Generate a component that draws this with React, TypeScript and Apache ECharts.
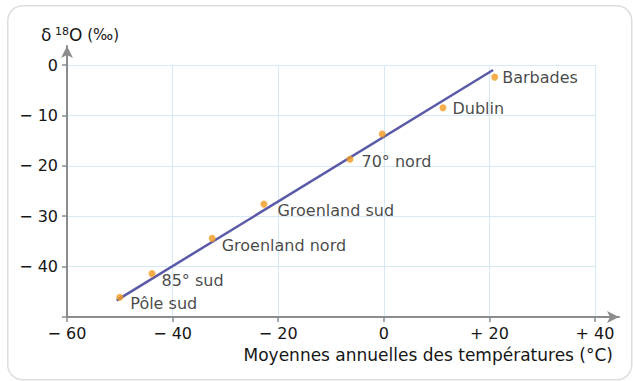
import React, { useEffect, useRef } from "react";
import * as echarts from "echarts";

const temperatures = [-50, -43.9, -32.5, -22.7, -6.4, -0.3, 11.2, 21];
const delta18O = [-46.1, -41.4, -34.4, -27.6, -18.7, -13.7, -8.5, -2.4];
const stations = ["Pôle sud", "85° sud", "Groenland nord", "Groenland sud", "70° nord", "", "Dublin", "Barbades"];
const fitX = [-50.6, 20.7];
const fitY = [-46.7, -1.0];
const xTicks = { min: -60, max: 40, interval: 20 };
const yTicks = { min: -50, max: 0, interval: 10 };
const xTitle = "Moyennes annuelles des températures (°C)";

const labelOffsets: [number, number][] = [
  [2, 6], [1, 7], [1, 7], [5, 6], [3, 2], [0, 0], [1, 1], [-1, 0],
];

const FONT = "DejaVu Sans";
const TEXT = "#161616";
const AXIS = "#8c8c8c";
const GRIDC = "#d6e9f6";

const fmtX = (v: number) => (v < 0 ? "− " + Math.abs(v) : v > 0 ? "+ " + v : "0");
const fmtY = (v: number) => (v === -50 ? "" : v < 0 ? "− " + Math.abs(v) : "0");

export default function App() {
  const ref = useRef<HTMLDivElement>(null);
  useEffect(() => {
    document.body.style.margin = "0";
    const chart = echarts.init(ref.current!, undefined, { renderer: "svg" });
    chart.setOption({
      animation: false,
      backgroundColor: "#ffffff",
      title: [
        {
          left: 41,
          top: 26,
          padding: 0,
          text: "{a|δ}{s| 18}{a|O} {b|(‰)}",
          textStyle: {
            fontWeight: "normal",
            rich: {
              a: { fontFamily: FONT, fontSize: 17, fontWeight: "normal", color: TEXT },
              s: { fontFamily: FONT, fontSize: 11, fontWeight: "normal", color: TEXT, verticalAlign: "top", padding: [0, 0, 6, 0] },
              b: { fontFamily: FONT, fontSize: 15, fontWeight: "normal", color: TEXT },
            },
          },
        },
        {
          right: 20,
          top: 346,
          padding: 0,
          text: xTitle,
          textStyle: { fontFamily: FONT, fontSize: 17, fontWeight: "normal", color: TEXT },
        },
      ],
      graphic: [
        {
          type: "rect",
          left: 7,
          top: 5,
          z: -10,
          shape: { width: 624, height: 374, r: 15 },
          style: { fill: "#ffffff", stroke: "#dedede", lineWidth: 1.5 },
        },
      ],
      grid: [
        { left: 67, right: 38, top: 65, bottom: 64 },
        { left: 67, right: 14, top: 46, bottom: 64 },
      ],
      xAxis: [
        {
          type: "value",
          gridIndex: 0,
          min: xTicks.min,
          max: xTicks.max,
          interval: xTicks.interval,
          axisLine: { show: false, onZero: false },
          axisTick: { show: true, length: 5, lineStyle: { color: AXIS, width: 1.5 } },
          axisLabel: { formatter: fmtX, margin: 8, fontFamily: FONT, fontSize: 16, color: TEXT },
          splitLine: { show: true, lineStyle: { color: GRIDC, width: 1 } },
        },
        {
          type: "value",
          gridIndex: 1,
          min: 0,
          max: 1,
          axisLine: { show: true, onZero: false, symbol: ["none", "arrow"], symbolSize: [9, 12], lineStyle: { color: AXIS, width: 2 } },
          axisTick: { show: false },
          axisLabel: { show: false },
          splitLine: { show: false },
        },
      ],
      yAxis: [
        {
          type: "value",
          gridIndex: 0,
          min: yTicks.min,
          max: yTicks.max,
          interval: yTicks.interval,
          axisLine: { show: false, onZero: false },
          axisTick: { show: true, length: 5, lineStyle: { color: AXIS, width: 1.5 } },
          axisLabel: { formatter: fmtY, margin: 9, fontFamily: FONT, fontSize: 16, color: TEXT },
          splitLine: { show: true, lineStyle: { color: GRIDC, width: 1 } },
        },
        {
          type: "value",
          gridIndex: 1,
          min: 0,
          max: 1,
          axisLine: { show: true, onZero: false, symbol: ["none", "arrow"], symbolSize: [9, 12], lineStyle: { color: AXIS, width: 2 } },
          axisTick: { show: false },
          axisLabel: { show: false },
          splitLine: { show: false },
        },
      ],
      series: [
        {
          type: "line",
          xAxisIndex: 0,
          yAxisIndex: 0,
          data: fitX.map((x, i) => [x, fitY[i]]),
          showSymbol: false,
          symbol: "none",
          lineStyle: { color: "#5a5aa8", width: 2.5 },
          z: 2,
        },
        {
          type: "scatter",
          xAxisIndex: 0,
          yAxisIndex: 0,
          symbolSize: 7,
          itemStyle: { color: "#f39a1e" },
          z: 3,
          data: temperatures.map((t, i) => ({
            value: [t, delta18O[i]],
            label: {
              show: stations[i] !== "",
              formatter: stations[i],
              position: "right",
              distance: 5,
              offset: labelOffsets[i],
              fontFamily: FONT,
              fontSize: 16,
              color: TEXT,
            },
          })),
        },
      ],
    });
    return () => chart.dispose();
  }, []);
  return <div ref={ref} style={{ position: "fixed", left: 0, top: 0, width: 633, height: 381 }} />;
}
